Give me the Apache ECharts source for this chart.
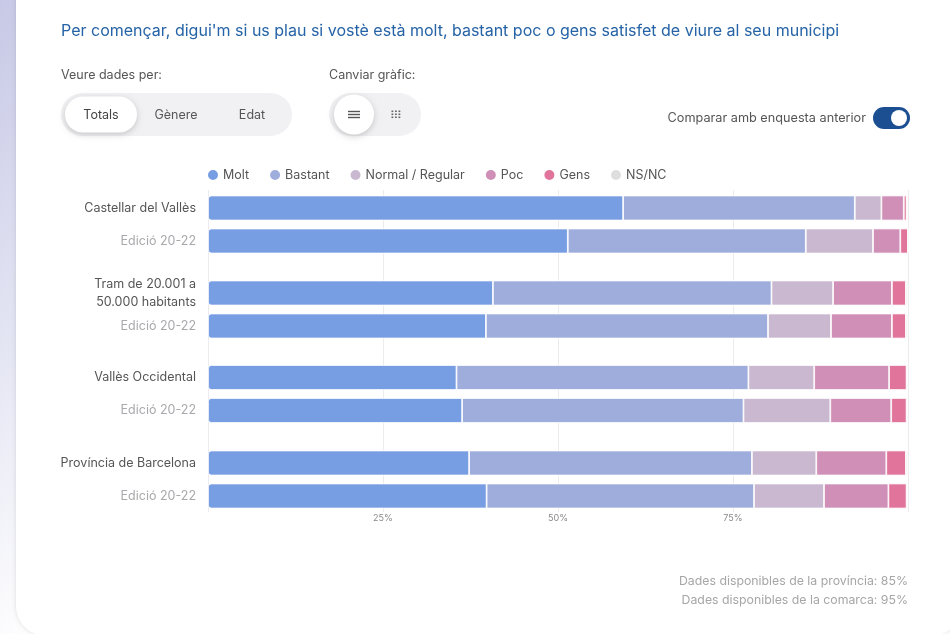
<!DOCTYPE html>
<html>
<head>
<meta charset="utf-8">
<script src="https://cdn.jsdelivr.net/npm/echarts@6/dist/echarts.min.js"></script>
<style>
html,body{margin:0;padding:0;background:#fff;}
#chart{width:950px;height:634px;}
</style>
</head>
<body>
<div id="chart"></div>
<script>
// ---- Data ----
var categories = ['Castellar del Vallès', 'Edició 20-22', 'Tram de 20.001 a\n50.000 habitants', 'Edició 20-22', 'Vallès Occidental', 'Edició 20-22', 'Província de Barcelona', 'Edició 20-22'];
var seriesNames = ['Molt', 'Bastant', 'Normal / Regular', 'Poc', 'Gens', 'NS/NC'];
var molt    = [59.3, 51.4, 40.7, 39.7, 35.5, 36.3, 37.3, 39.8];
var bastant = [33.1, 34.0, 39.8, 40.3, 41.7, 40.2, 40.4, 38.2];
var normal  = [3.8, 9.6, 8.8, 9.0, 9.4, 12.4, 9.2, 10.0];
var poc     = [3.2, 3.9, 8.4, 8.7, 10.7, 8.7, 10.0, 9.2];
var gens    = [0.4, 1.1, 2.0, 2.0, 2.5, 2.2, 2.8, 2.6];
var nsnc    = [0.2, 0.0, 0.3, 0.3, 0.2, 0.2, 0.3, 0.2];
var tickLabels = ['', '25%', '50%', '75%', ''];
var footnotes = ['Dades disponibles de la província: 85%', 'Dades disponibles de la comarca: 95%'];
var titleText = "Per començar, digui'm si us plau si vostè està molt, bastant poc o gens satisfet de viure al seu municipi";

// ---- Styles ----
var colors = ['#779de3', '#9eaddc', '#c9b8cf', '#cf8fb6', '#e0749a', '#dedede'];
var FONT = 'Inter, "Noto Sans", sans-serif';
var chart = echarts.init(document.getElementById('chart'));

var allValues = [molt, bastant, normal, poc, gens, nsnc];
var gridTops = [191.5, 276.5, 361, 446.5];
var grids = [], xAxes = [], yAxes = [], series = [];

// background grid for vertical split lines & tick labels
grids.push({left: 208, right: 42, top: 190, height: 322});
xAxes.push({
  gridIndex: 0, type: 'value', min: 0, max: 100, interval: 25,
  axisLine: {show: false}, axisTick: {show: false},
  splitLine: {show: true, lineStyle: {color: '#ececee', width: 1}},
  axisLabel: {margin: 2, fontSize: 9, color: '#8a8a8a', fontFamily: FONT,
    formatter: function (v) { return tickLabels[Math.round(v / 25)] || ''; }}
});
yAxes.push({gridIndex: 0, type: 'value', show: false, min: 0, max: 1});

for (var g = 0; g < 4; g++) {
  var gi = g + 1;
  grids.push({left: 208, right: 42, top: gridTops[g], height: 66});
  xAxes.push({gridIndex: gi, type: 'value', min: 0, max: 100, show: false});
  yAxes.push({
    gridIndex: gi, type: 'category', inverse: true,
    data: categories.slice(g * 2, g * 2 + 2),
    axisLine: {show: false}, axisTick: {show: false}, splitLine: {show: false},
    axisLabel: {
      margin: 12, fontSize: 12.5, fontFamily: FONT, lineHeight: 18,
      color: function (v, idx) { return v.indexOf('Edició') === 0 ? '#a9a9ad' : '#555'; }
    }
  });
  for (var s = 0; s < 6; s++) {
    var radius = s === 0 ? [3, 0, 0, 3] : (s === 5 ? [0, 3, 3, 0] : 0);
    series.push({
      name: seriesNames[s], type: 'bar', stack: 'st' + g,
      xAxisIndex: gi, yAxisIndex: gi, barWidth: 25,
      data: allValues[s].slice(g * 2, g * 2 + 2),
      itemStyle: {color: colors[s], borderColor: '#fff', borderWidth: 0.8, borderRadius: radius},
      emphasis: {disabled: true},
      silent: true
    });
  }
}

var textCol = '#555';
var graphics = [
  // outer background gradient strip
  {type: 'rect', z: -20, shape: {x: 0, y: 0, width: 950, height: 634},
   style: {fill: new echarts.graphic.LinearGradient(0, 0, 0.35, 0.6, [
     {offset: 0, color: '#c7c9e6'}, {offset: 1, color: '#ffffff'}])}},
  // card
  {type: 'rect', z: -19, shape: {x: 16, y: -40, width: 945, height: 676, r: 30},
   style: {fill: '#ffffff', shadowBlur: 4, shadowColor: 'rgba(0,0,0,0.12)', shadowOffsetX: 0, shadowOffsetY: 0}},
  // title
  {type: 'text', left: 61, top: 23, style: {text: titleText, fill: '#2563a6', fontSize: 16, fontFamily: FONT}},
  // controls labels
  {type: 'text', left: 61, top: 69, style: {text: 'Veure dades per:', fill: textCol, fontSize: 12.5, fontFamily: FONT}},
  {type: 'text', left: 329, top: 69, style: {text: 'Canviar gràfic:', fill: textCol, fontSize: 12.5, fontFamily: FONT}},
  // pill 1
  {type: 'rect', shape: {x: 61, y: 93, width: 231, height: 43, r: 21.5}, style: {fill: '#f1f1f4'}},
  {type: 'rect', shape: {x: 65, y: 96.5, width: 72, height: 36, r: 18},
   style: {fill: '#fff', shadowBlur: 6, shadowColor: 'rgba(0,0,0,0.18)', shadowOffsetY: 2}},
  {type: 'text', x: 101, y: 115, style: {text: 'Totals', fill: '#444', fontSize: 12.5, fontFamily: FONT, align: 'center', verticalAlign: 'middle'}},
  {type: 'text', x: 176, y: 115, style: {text: 'Gènere', fill: '#555', fontSize: 12.5, fontFamily: FONT, align: 'center', verticalAlign: 'middle'}},
  {type: 'text', x: 252, y: 115, style: {text: 'Edat', fill: '#555', fontSize: 12.5, fontFamily: FONT, align: 'center', verticalAlign: 'middle'}},
  // pill 2
  {type: 'rect', shape: {x: 329, y: 93, width: 92, height: 43, r: 21.5}, style: {fill: '#f1f1f4'}},
  {type: 'circle', shape: {cx: 354, cy: 114.5, r: 20},
   style: {fill: '#fff', shadowBlur: 6, shadowColor: 'rgba(0,0,0,0.18)', shadowOffsetY: 2}},
  {type: 'line', shape: {x1: 348, y1: 111.5, x2: 360, y2: 111.5}, style: {stroke: '#555', lineWidth: 1.4}},
  {type: 'line', shape: {x1: 348, y1: 114.5, x2: 360, y2: 114.5}, style: {stroke: '#555', lineWidth: 1.4}},
  {type: 'line', shape: {x1: 348, y1: 117.5, x2: 360, y2: 117.5}, style: {stroke: '#555', lineWidth: 1.4}},
  // toggle
  {type: 'text', right: 950 - 866, top: 112, style: {text: 'Comparar amb enquesta anterior', fill: textCol, fontSize: 12.7, fontFamily: FONT}},
  {type: 'rect', shape: {x: 873, y: 107, width: 37, height: 22, r: 11}, style: {fill: '#1c4f92'}},
  {type: 'circle', shape: {cx: 899, cy: 118, r: 8}, style: {fill: '#fff'}},
  // footnotes
  {type: 'text', right: 42, top: 575, style: {text: footnotes[0], fill: '#a6a6a6', fontSize: 12.3, fontFamily: FONT}},
  {type: 'text', right: 42, top: 594, style: {text: footnotes[1], fill: '#a6a6a6', fontSize: 12.3, fontFamily: FONT}}
];
// grid dots icon
for (var r = 0; r < 3; r++) {
  for (var c = 0; c < 3; c++) {
    graphics.push({type: 'rect', shape: {x: 391.5 + c * 3.5, y: 110.5 + r * 3, width: 1.8, height: 1.6}, style: {fill: '#666'}});
  }
}

chart.setOption({
  animation: false,
  legend: {
    data: seriesNames, left: 201, top: 163, icon: 'circle', itemWidth: 12, itemHeight: 12, itemGap: 19,
    textStyle: {color: '#555', fontSize: 12.5, fontFamily: FONT, padding: [0, 0, 0, -1]},
    selectedMode: false
  },
  grid: grids, xAxis: xAxes, yAxis: yAxes, series: series,
  graphic: graphics
});
</script>
</body>
</html>
